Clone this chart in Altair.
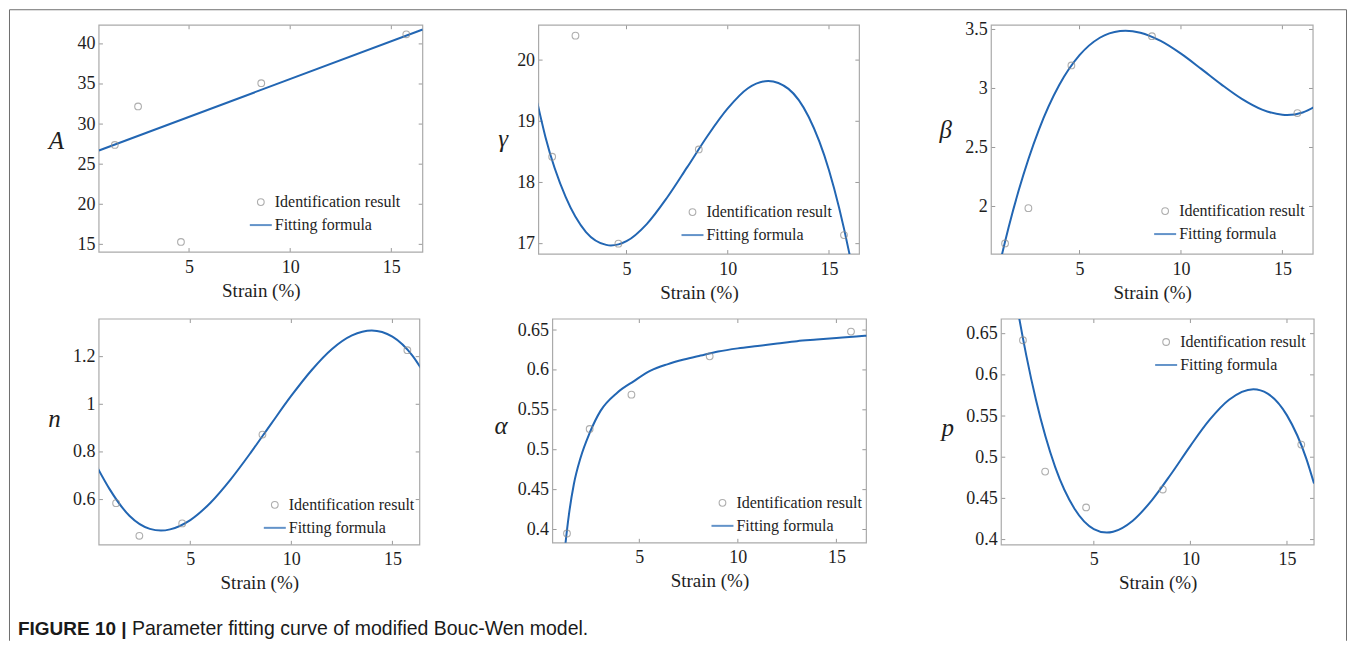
import altair as alt
import pandas as pd

# ---------------- data ----------------
series_names = ["Identification result", "Fitting formula"]
strain_pts = [1.33, 2.48, 4.6, 8.57, 15.74]

A_pts = [27.4, 32.2, 15.3, 35.1, 41.2]
gamma_pts = [18.42, 20.40, 17.00, 18.54, 17.14]
beta_pts = [1.687, 1.986, 3.195, 3.443, 2.792]
n_pts = [0.585, 0.448, 0.500, 0.873, 1.227]
alpha_pts = [0.395, 0.526, 0.569, 0.617, 0.648]
p_pts = [0.642, 0.4825, 0.439, 0.4607, 0.5153]

A_fit_x = [0.545, 16.55]
A_fit_y = [26.70, 41.80]

gamma_fit_x = [0.6, 1, 2, 3, 4, 4.23, 5, 6, 7, 8, 9, 10, 11, 12, 13, 14, 15, 16, 16.5]
gamma_fit_y = [19.30, 18.74, 17.76, 17.19, 16.98, 16.97, 17.04, 17.32, 17.75, 18.25,
               18.76, 19.21, 19.54, 19.66, 19.53, 19.07, 18.20, 16.85, 15.99]

beta_fit_x = [0.6, 1, 1.5, 2, 3, 4, 5, 6, 7, 7.27, 8, 9, 10, 11, 12, 13, 14, 15, 15.23, 16, 16.6]
beta_fit_y = [1.14, 1.46, 1.82, 2.135, 2.652, 3.029, 3.282, 3.43, 3.487, 3.49, 3.473,
              3.403, 3.295, 3.166, 3.033, 2.912, 2.821, 2.777, 2.775, 2.797, 2.846]

n_fit_x = [0.4, 1, 2, 3, 3.55, 4, 5, 6, 7, 8, 9, 10, 11, 12, 13, 13.98, 15, 16, 16.4]
n_fit_y = [0.735, 0.645, 0.531, 0.477, 0.470, 0.475, 0.514, 0.587, 0.685, 0.798,
           0.918, 1.036, 1.143, 1.231, 1.289, 1.310, 1.284, 1.203, 1.153]

alpha_fit_x = [1.2, 1.26, 1.43, 1.68, 2.02, 2.48, 3.04, 3.88, 4.73, 5.57, 6.42, 7.26,
               8.11, 9, 10, 11, 12, 13, 14, 15, 16, 16.6]
alpha_fit_y = [0.370, 0.384, 0.419, 0.457, 0.490, 0.521, 0.549, 0.5715, 0.586, 0.599,
               0.607, 0.613, 0.618, 0.623, 0.627, 0.630, 0.633, 0.636, 0.638, 0.640,
               0.642, 0.643]

p_fit_x = [0.8, 1, 1.5, 2, 3, 4, 5, 5.67, 6, 7, 8, 9, 10, 11, 12, 13.26, 14, 15, 16, 16.4]
p_fit_y = [0.715, 0.687, 0.624, 0.570, 0.488, 0.4375, 0.4128, 0.4085, 0.4095, 0.4226,
           0.4476, 0.4796, 0.5138, 0.5455, 0.5697, 0.5825, 0.5772, 0.5508, 0.4983, 0.468]

x_ticks = [5, 10, 15]
A_ticks = [15, 20, 25, 30, 35, 40]
gamma_ticks = [17, 18, 19, 20]
beta_ticks = [2, 2.5, 3, 3.5]
n_ticks = [0.6, 0.8, 1, 1.2]
alpha_ticks = [0.4, 0.45, 0.5, 0.55, 0.6, 0.65]
p_ticks = [0.4, 0.45, 0.5, 0.55, 0.6, 0.65]

x_title = "Strain (%)"
caption_bold = "FIGURE 10 |"
caption_rest = "Parameter fitting curve of modified Bouc-Wen model."

# ---------------- styles ----------------
SERIF = "Liberation Serif"
TXT = "#1e1e1e"
GRAY = "#8c8c8c"
BLUE = "#2266b3"
FRAME = "#aaaaaa"
TICK = "#9a9a9a"


def panel(sym, pts, fx, fy, yticks, xdom, ydom, W, H, lx, ly, tx, ty, shift=0):
    pdf = pd.DataFrame({"strain": strain_pts, "val": pts, "series": series_names[0]})
    fdf = pd.DataFrame({"strain": fx, "val": fy, "series": series_names[1]})
    xt = pd.DataFrame({"strain": x_ticks})
    yt = pd.DataFrame({"val": yticks})

    xenc = alt.X("strain:Q",
                 scale=alt.Scale(domain=xdom, nice=False, zero=False),
                 axis=alt.Axis(values=x_ticks, title=x_title, labelFont=SERIF,
                               titleFont=SERIF, labelFontSize=18, titleFontSize=19,
                               labelPadding=6, titlePadding=5,
                               titleX=(W + shift) / 2))
    yenc = alt.Y("val:Q",
                 scale=alt.Scale(domain=ydom, nice=False, zero=False),
                 axis=alt.Axis(values=yticks, title=sym, format="~g", labelFont=SERIF,
                               titleFont=SERIF, labelFontSize=18, titleFontSize=25,
                               titleFontStyle="italic", labelPadding=4, titleAngle=0,
                               titleAlign="center", titleBaseline="middle",
                               titleX=tx, titleY=ty, offset=-shift))
    leg = alt.Legend(orient="none", legendX=lx, legendY=ly, title=None,
                     labelFont=SERIF, labelFontSize=16, labelColor=TXT,
                     labelOffset=2, rowPadding=3, padding=0, labelLimit=300)
    color = alt.Color("series:N", scale=alt.Scale(domain=series_names, range=[GRAY, BLUE]),
                      legend=leg)
    shape = alt.Shape("series:N", scale=alt.Scale(domain=series_names,
                                                  range=["circle", "stroke"]), legend=leg)
    size = alt.Size("series:N", scale=alt.Scale(domain=series_names, range=[45, 484]),
                    legend=leg)
    sw = alt.StrokeWidth("series:N", scale=alt.Scale(domain=series_names, range=[1.1, 2]),
                         legend=leg)

    frame = alt.Chart(xt.head(1)).mark_rect(fillOpacity=0, stroke=FRAME, strokeWidth=1.2).encode(
        x=alt.value(shift), x2=alt.value(W), y=alt.value(0), y2=alt.value(H))
    tick_top = alt.Chart(xt).mark_rule(color=TICK).encode(
        x=xenc, y=alt.value(0), y2=alt.value(4))
    tick_bot = alt.Chart(xt).mark_rule(color=TICK).encode(
        x=xenc, y=alt.value(H - 4), y2=alt.value(H))
    tick_l = alt.Chart(yt).mark_rule(color=TICK).encode(
        y=yenc, x=alt.value(shift), x2=alt.value(shift + 4))
    tick_r = alt.Chart(yt).mark_rule(color=TICK).encode(
        y=yenc, x=alt.value(W - 4), x2=alt.value(W))

    line = alt.Chart(fdf).mark_line(clip=True, interpolate="monotone").encode(
        x=xenc, y=yenc, color=color, strokeWidth=sw)
    points = alt.Chart(pdf).mark_point(filled=False).encode(
        x=xenc, y=yenc, color=color, shape=shape, size=size, strokeWidth=sw)

    return alt.layer(tick_top, tick_l, tick_bot, tick_r, frame, line, points).properties(
        width=W, height=H, view=alt.ViewBackground(stroke="transparent"))


def spacer(w):
    d = pd.DataFrame({"s": [0]})
    return alt.Chart(d).mark_point(opacity=0).encode(
        x=alt.value(0), y=alt.value(0)).properties(
        width=w, height=1, view=alt.ViewBackground(stroke="transparent"))


RES = dict(color="independent", shape="independent", size="independent",
           strokeWidth="independent")

p1 = panel("A", A_pts, A_fit_x, A_fit_y, A_ticks, [0.545, 16.55], [14.04, 42.33],
           324, 227, 150, 169, -43, 115)
p2 = panel("γ", gamma_pts, gamma_fit_x, gamma_fit_y, gamma_ticks, [0.66, 16.5],
           [16.83, 20.57], 321, 229, 142, 179, -36, 113)
p3 = panel("β", beta_pts, beta_fit_x, beta_fit_y, beta_ticks, [0.65, 16.51],
           [1.597, 3.536], 322, 229, 162, 178, -46, 104)
p4 = panel("n", n_pts, n_fit_x, n_fit_y, n_ticks, [0.48, 16.35], [0.41, 1.358],
           321, 226, 164, 178, -45, 100)
p5 = panel("α", alpha_pts, alpha_fit_x, alpha_fit_y, alpha_ticks, [-0.11, 16.52],
           [0.3833, 0.6638], 328, 224, 172, 176, -52, 107, shift=14)
p6 = panel("p", p_pts, p_fit_x, p_fit_y, p_ticks, [-0.31, 16.4], [0.3936, 0.6678],
           323, 226, 163, 15, -54, 109, shift=10)

cap_df = pd.DataFrame({"bold": [caption_bold], "rest": [caption_rest]})
cap_bold = alt.Chart(cap_df).mark_text(
    align="left", baseline="middle", font="Liberation Sans", fontSize=19,
    fontWeight="bold", color="#1a1a1a").encode(
    text="bold:N", x=alt.value(-81), y=alt.value(19))
cap_rest = alt.Chart(cap_df).mark_text(
    align="left", baseline="middle", font="Liberation Sans", fontSize=19.5,
    color="#1a1a1a").encode(text="rest:N", x=alt.value(33), y=alt.value(19))
frame_l = alt.Chart(cap_df).mark_rule(color="#6e6e6e", strokeWidth=1).encode(
    x=alt.value(-89.5), y=alt.value(-600.5), y2=alt.value(31))
frame_t = alt.Chart(cap_df).mark_rule(color="#6e6e6e", strokeWidth=1).encode(
    x=alt.value(-89.5), x2=alt.value(1248.5), y=alt.value(-600.5))
frame_r = alt.Chart(cap_df).mark_rule(color="#6e6e6e", strokeWidth=1).encode(
    x=alt.value(1248.5), y=alt.value(-600.5), y2=alt.value(31))
caption = alt.layer(frame_l, frame_t, frame_r, cap_bold, cap_rest).properties(
    width=300, height=20, view=alt.ViewBackground(stroke="transparent"))

cells = [p1, spacer(116), p2, spacer(125), p3,
         p4, spacer(116), p5, spacer(125), p6,
         caption]

chart = alt.concat(*cells, columns=5, spacing={"row": 65, "column": 0},
                   bounds="flush", align="each").resolve_scale(
    **RES).resolve_legend(**RES).properties(padding=0).configure(
    background="white").configure_axis(
    labelFont=SERIF, titleFont=SERIF, labelColor=TXT, titleColor=TXT,
    titleFontWeight="normal", domain=False, ticks=False, grid=False).configure_legend(
    labelFont=SERIF)

chart.save("out.html", embed_options={"renderer": "svg", "actions": False})
